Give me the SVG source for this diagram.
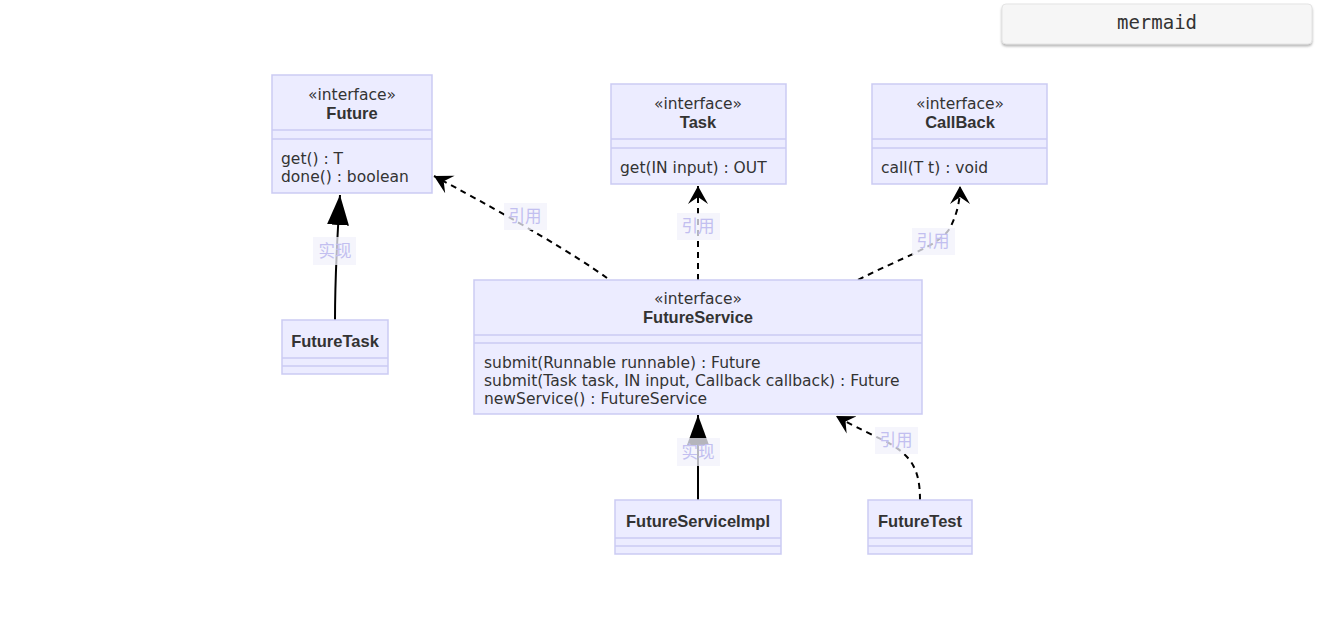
<svg xmlns="http://www.w3.org/2000/svg" width="1317" height="625" viewBox="0 0 1317 625">
  <style>
    .box { fill: #ECECFF; stroke: #cbcbf3; stroke-width: 1.5; }
    .div { stroke: #cbcbf3; stroke-width: 1.5; }
    .t { font-family: "DejaVu Sans", Verdana, sans-serif; font-size: 15.5px; fill: #333; }
    .c { text-anchor: middle; }
    .b { font-family: "Liberation Sans", Arial, sans-serif; font-weight: bold; font-size: 16.5px; }
    .edge { fill: none; stroke: #000; stroke-width: 2; }
    .dash { stroke-dasharray: 6 5; }
    .lbg { fill: #f1f1fb; fill-opacity: 0.75; }
    .lbl { font-family: "Noto Sans CJK SC", "Liberation Sans", sans-serif; font-size: 16.5px; fill: #c2bff0; text-anchor: middle; }
  </style>
  <defs>
    <marker id="extends" markerUnits="userSpaceOnUse" markerWidth="32" markerHeight="24" viewBox="0 -12 32 24" refX="30" refY="0" orient="auto">
      <path d="M0,-11 L30,0 L0,11 Z" fill="#000"/>
    </marker>
    <marker id="depend" markerUnits="userSpaceOnUse" markerWidth="22" markerHeight="22" viewBox="0 -11 22 22" refX="18" refY="0" orient="auto">
      <path d="M0,-10 L18,0 L0,10 L7,0 Z" fill="#000"/>
    </marker>
    <filter id="shadow" x="-5%" y="-20%" width="110%" height="150%">
      <feDropShadow dx="0" dy="2" stdDeviation="1" flood-color="#888" flood-opacity="0.6"/>
    </filter>
  </defs>

  <!-- mermaid badge -->
  <g id="badge">
    <rect x="1002" y="4" width="310" height="40" rx="4" fill="#f6f6f6" stroke="#e4e4e4" filter="url(#shadow)"/>
    <text x="1157" y="29" text-anchor="middle" font-family="'DejaVu Sans Mono', 'Liberation Mono', monospace" font-size="19" fill="#333">mermaid</text>
  </g>

  <!-- connectors -->
  <g id="connectors">
    <path class="edge" d="M335,320 C335,285 336,255 340,195" marker-end="url(#extends)"/>
    <path class="edge dash" d="M607,278 C575,255 520,222 434,176" marker-end="url(#depend)"/>
    <path class="edge dash" d="M698,280 L698,186" marker-end="url(#depend)"/>
    <path class="edge dash" d="M858,280 C900,258 940,246 950,228 C957,214 960,202 960,186" marker-end="url(#depend)"/>
    <path class="edge" d="M698,500 L698,415" marker-end="url(#extends)"/>
    <path class="edge dash" d="M920,500 C920,470 912,455 885,441 C862,430 850,424 836,416" marker-end="url(#depend)"/>
  </g>

  <!-- connector labels -->
  <g id="labels">
    <rect class="lbg" x="313" y="237" width="43" height="28"/>
    <text class="lbl" x="335" y="257">实现</text>
    <rect class="lbg" x="504" y="203" width="43" height="27"/>
    <text class="lbl" x="525" y="222">引用</text>
    <rect class="lbg" x="677" y="213" width="43" height="27"/>
    <text class="lbl" x="698" y="232">引用</text>
    <rect class="lbg" x="912" y="228" width="43" height="27"/>
    <text class="lbl" x="933" y="247">引用</text>
    <rect class="lbg" x="677" y="438" width="43" height="28"/>
    <text class="lbl" x="698" y="458">实现</text>
    <rect class="lbg" x="875" y="427" width="43" height="27"/>
    <text class="lbl" x="896" y="446">引用</text>
  </g>

  <!-- Future -->
  <g id="Future">
    <rect class="box" x="272" y="75" width="160" height="118"/>
    <line class="div" x1="272" y1="130" x2="432" y2="130"/>
    <line class="div" x1="272" y1="139" x2="432" y2="139"/>
    <text class="t c" x="352" y="100">«interface»</text>
    <text class="t c b" x="352" y="119">Future</text>
    <text class="t" x="281" y="164">get() : T</text>
    <text class="t" x="281" y="182">done() : boolean</text>
  </g>

  <!-- Task -->
  <g id="Task">
    <rect class="box" x="611" y="84" width="175" height="100"/>
    <line class="div" x1="611" y1="139" x2="786" y2="139"/>
    <line class="div" x1="611" y1="148" x2="786" y2="148"/>
    <text class="t c" x="698" y="109">«interface»</text>
    <text class="t c b" x="698" y="128">Task</text>
    <text class="t" x="620" y="173">get(IN input) : OUT</text>
  </g>

  <!-- CallBack -->
  <g id="CallBack">
    <rect class="box" x="872" y="84" width="175" height="100"/>
    <line class="div" x1="872" y1="139" x2="1047" y2="139"/>
    <line class="div" x1="872" y1="148" x2="1047" y2="148"/>
    <text class="t c" x="960" y="109">«interface»</text>
    <text class="t c b" x="960" y="128">CallBack</text>
    <text class="t" x="881" y="173">call(T t) : void</text>
  </g>

  <!-- FutureTask -->
  <g id="FutureTask">
    <rect class="box" x="282" y="320" width="106" height="54"/>
    <line class="div" x1="282" y1="358" x2="388" y2="358"/>
    <line class="div" x1="282" y1="366" x2="388" y2="366"/>
    <text class="t c b" x="335" y="347">FutureTask</text>
  </g>

  <!-- FutureService -->
  <g id="FutureService">
    <rect class="box" x="474" y="280" width="448" height="134"/>
    <line class="div" x1="474" y1="335" x2="922" y2="335"/>
    <line class="div" x1="474" y1="343" x2="922" y2="343"/>
    <text class="t c" x="698" y="304">«interface»</text>
    <text class="t c b" x="698" y="323">FutureService</text>
    <text class="t" x="484" y="368">submit(Runnable runnable) : Future</text>
    <text class="t" x="484" y="386">submit(Task task, IN input, Callback callback) : Future</text>
    <text class="t" x="484" y="404">newService() : FutureService</text>
  </g>

  <!-- FutureServiceImpl -->
  <g id="FutureServiceImpl">
    <rect class="box" x="615" y="500" width="166" height="54"/>
    <line class="div" x1="615" y1="538" x2="781" y2="538"/>
    <line class="div" x1="615" y1="546" x2="781" y2="546"/>
    <text class="t c b" x="698" y="527">FutureServiceImpl</text>
  </g>

  <!-- FutureTest -->
  <g id="FutureTest">
    <rect class="box" x="868" y="500" width="104" height="54"/>
    <line class="div" x1="868" y1="538" x2="972" y2="538"/>
    <line class="div" x1="868" y1="546" x2="972" y2="546"/>
    <text class="t c b" x="920" y="527">FutureTest</text>
  </g>
</svg>
